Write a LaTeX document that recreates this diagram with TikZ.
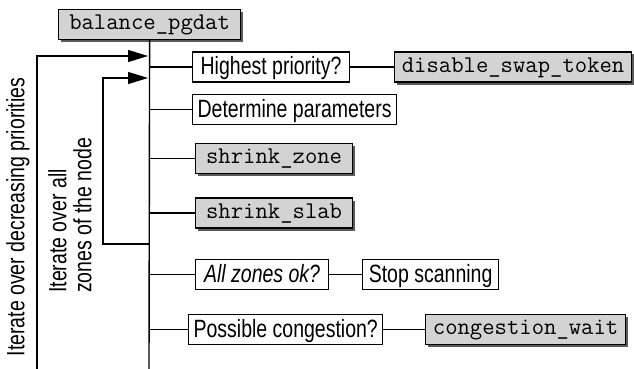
\documentclass[tikz,border=0pt]{standalone}
\usepackage{fontspec}
\setmainfont{Liberation Sans}[FakeStretch=0.78]
\usetikzlibrary{arrows.meta,shadows,positioning}
\definecolor{funcGray}{RGB}{211,211,211}
\definecolor{shadowGray}{RGB}{90,90,90}

\begin{document}
\begin{tikzpicture}[x=1pt, y=-1pt,
  every node/.style={font=\fontsize{25}{25}\selectfont},
  stepbox/.style={draw, line width=1.2pt, fill=white, anchor=west,
                  text height=21pt, text depth=6pt, inner ysep=1.5pt, inner xsep=5pt},
  funcbox/.style={stepbox, fill=funcGray, font=\fontsize{24}{25}\selectfont\ttfamily,
                  text height=18pt, text depth=8pt, inner ysep=2pt,
                  drop shadow={shadow xshift=2.5pt, shadow yshift=-2.5pt,
                               fill=shadowGray, opacity=1}},
  link/.style={line width=1.4pt},
  loopback/.style={line width=1.4pt, -{Triangle[length=20pt,width=12pt]}},
]
\useasboundingbox (0,0) rectangle (634,369);

% Top function and trunk
\node[funcbox, minimum width=182pt] (balance) at (58,24.5) {balance\_pgdat};
\coordinate (trunkend) at (149,369);
\draw[link] (balance.south) -- (trunkend);

% Steps along the trunk
\node[stepbox, minimum width=157pt] (highest) at (192,67) {Highest priority?};
\node[funcbox, minimum width=237pt] (swaptok) at (394,67) {disable\_swap\_token};
\node[stepbox, minimum width=203pt] (params) at (192,109.5) {Determine parameters};
\node[funcbox, minimum width=157pt] (shrzone) at (195,158.5) {shrink\_zone};
\node[funcbox, minimum width=157pt] (shrslab) at (195,213) {shrink\_slab};
\node[stepbox, minimum width=133pt] (allok) at (195,274.5) {\itshape All zones ok?};
\node[stepbox, minimum width=136pt] (stopscan) at (362,274.5) {Stop scanning};
\node[stepbox, minimum width=194pt] (congest) at (188,329.5) {Possible congestion?};
\node[funcbox, minimum width=200pt] (congwait) at (425,329.5) {congestion\_wait};

\foreach \n in {highest,params,shrzone,shrslab,allok,congest}
  \draw[link] (balance.south |- \n.west) -- (\n.west);
\draw[link] (highest.east) -- (swaptok.west);
\draw[link] (allok.east) -- (stopscan.west);
\draw[link] (congest.east) -- (congwait.west);

% Loops
\coordinate (outerin) at (148,56);
\coordinate (innerin) at (148,78);
\coordinate (innerout) at (149,244);
\draw[loopback] (37,369) |- (outerin);
\draw[loopback] (innerout) -| (103,78) -- (innerin);

\node[rotate=90, inner sep=0pt] (outerlbl) at (18,217) {Iterate over decreasing priorities};
\node[rotate=90, inner sep=0pt, anchor=west, align=left] (innerlbl) at (70,293)
  {Iterate over all\\zones of the node};

\end{tikzpicture}
\end{document}
